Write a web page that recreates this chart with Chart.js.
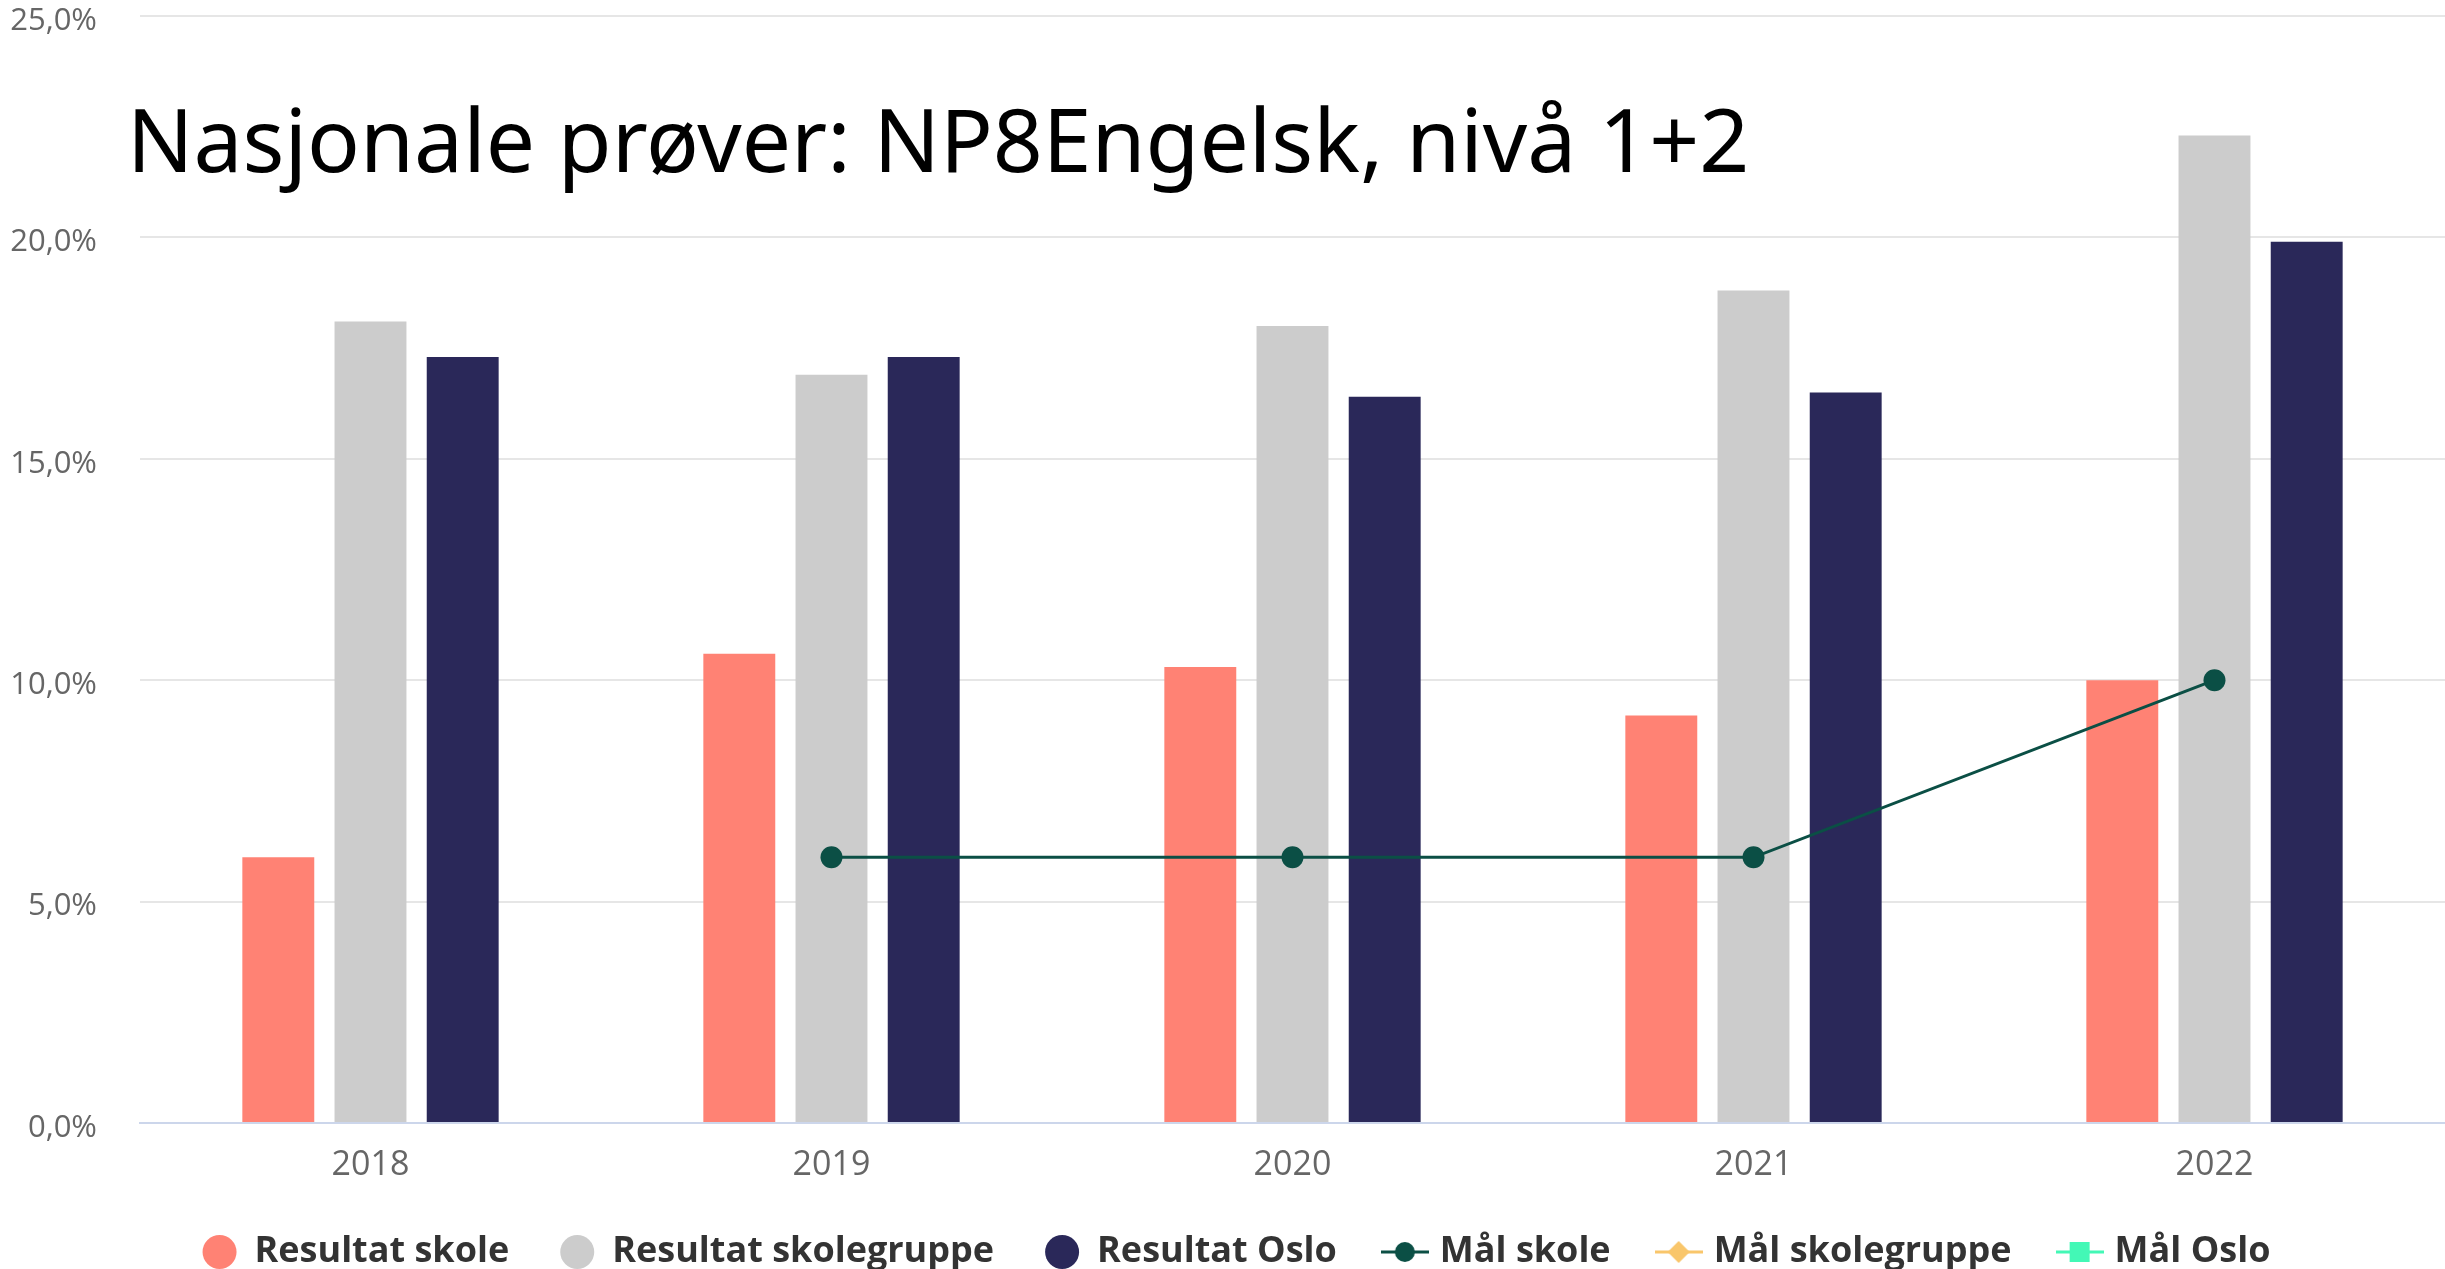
<!DOCTYPE html>
<html><head><meta charset="utf-8">
<script src="https://cdn.jsdelivr.net/npm/chart.js@4/dist/chart.umd.min.js"></script>
<style>
html,body{margin:0;padding:0;background:#fff;}
#wrap{position:relative;width:2445px;height:1269px;}
#title{position:absolute;left:127px;top:94px;font-family:"Noto Sans";font-size:87.5px;line-height:88px;color:#000;white-space:nowrap;pointer-events:none;}
</style></head>
<body><div id="wrap"><canvas id="c" width="2445" height="1269"></canvas><div id="title">Nasjonale prøver: NP8Engelsk, nivå 1+2</div></div>
<script>
const years = ['2018', '2019', '2020', '2021', '2022'];
const resultatSkole = [6.0, 10.6, 10.3, 9.2, 10.0];
const resultatSkolegruppe = [18.1, 16.9, 18.0, 18.8, 22.3];
const resultatOslo = [17.3, 17.3, 16.4, 16.5, 19.9];
const malSkole = [null, 6.0, 6.0, 6.0, 10.0];
const malSkolegruppe = [null, null, null, null, null];
const malOslo = [null, null, null, null, null];
const yTickValues = [0, 5, 10, 15, 20, 25];

const C_RED = '#FF8274', C_GRAY = '#CCCCCC', C_NAVY = '#2A2859',
      C_DGREEN = '#0B4F45', C_YELLOW = '#F9C66B', C_GREEN = '#43F8B6';

function lineMarker(color, shape) {
  const c = document.createElement('canvas'); c.width = 48; c.height = 26;
  const g = c.getContext('2d');
  g.strokeStyle = color; g.lineWidth = 3;
  g.beginPath(); g.moveTo(0, 13); g.lineTo(48, 13); g.stroke();
  g.fillStyle = color; g.beginPath();
  if (shape === 'circle') g.arc(24, 13, 10, 0, Math.PI * 2);
  else if (shape === 'diamond') { g.moveTo(24, 2); g.lineTo(35, 13); g.lineTo(24, 24); g.lineTo(13, 13); g.closePath(); }
  else g.rect(14, 3, 20, 20);
  g.fill();
  return c;
}
const legendMarkers = {
  'Mål skole': lineMarker(C_DGREEN, 'circle'),
  'Mål skolegruppe': lineMarker(C_YELLOW, 'diamond'),
  'Mål Oslo': lineMarker(C_GREEN, 'square')
};

const legendShift = {
  id: 'legendShift',
  afterLayout(chart) { if (chart.legend) chart.legend.left += 28; }
};

const ctx = document.getElementById('c');
new Chart(ctx, {
  plugins: [legendShift],
  data: {
    labels: years,
    datasets: [
      { type: 'bar', label: 'Resultat skole', data: resultatSkole, backgroundColor: C_RED, order: 1 },
      { type: 'bar', label: 'Resultat skolegruppe', data: resultatSkolegruppe, backgroundColor: C_GRAY, order: 1 },
      { type: 'bar', label: 'Resultat Oslo', data: resultatOslo, backgroundColor: C_NAVY, order: 1 },
      { type: 'line', label: 'Mål skole', data: malSkole, borderColor: C_DGREEN, backgroundColor: C_DGREEN,
        borderWidth: 3, pointRadius: 11, pointHoverRadius: 11, pointBorderWidth: 0, order: 0 },
      { type: 'line', label: 'Mål skolegruppe', data: malSkolegruppe, borderColor: C_YELLOW, backgroundColor: C_YELLOW,
        borderWidth: 3, pointRadius: 9, pointStyle: 'rectRot', order: 0 },
      { type: 'line', label: 'Mål Oslo', data: malOslo, borderColor: C_GREEN, backgroundColor: C_GREEN,
        borderWidth: 3, pointRadius: 9, pointStyle: 'rect', order: 0 }
    ]
  },
  options: {
    responsive: false,
    devicePixelRatio: 1,
    animation: false,
    layout: { autoPadding: false, padding: { top: 16, left: 0, right: 0, bottom: -11 } },
    datasets: { bar: { categoryPercentage: 0.6, barPercentage: 0.78 } },
    scales: {
      x: {
        grid: { display: true, drawOnChartArea: false, drawTicks: true, tickLength: 22, tickColor: 'rgba(0,0,0,0)', color: 'rgba(0,0,0,0)' },
        border: { display: true, color: '#CCD6EB', width: 2 },
        ticks: { color: '#666666', font: { family: '"Open Sans"', size: 34 }, padding: 0 },
        afterFit: s => { s.height = 60; s.paddingLeft = 0; s.paddingRight = 0; }
      },
      y: {
        min: 0, max: 25,
        afterBuildTicks: s => { s.ticks = yTickValues.map(v => ({ value: v })); },
        grid: { color: '#E6E6E6', lineWidth: 2, drawTicks: true, tickLength: 43, tickColor: 'rgba(0,0,0,0)' },
        border: { display: false },
        ticks: {
          color: '#666666', font: { family: '"Open Sans"', size: 31, lineHeight: 1 }, padding: 0, labelOffset: 5,
          callback: v => v.toFixed(1).replace('.', ',') + '%'
        },
        afterFit: s => { s.width = 140; }
      }
    },
    plugins: {
      tooltip: { enabled: false },
      title: { display: false },
      legend: {
        position: 'bottom',
        labels: {
          usePointStyle: true, pointStyleWidth: 34, boxHeight: 24, padding: 51,
          color: '#333333', font: { family: '"Open Sans"', size: 36, weight: 'bold' },
          sort: (a, b) => a.datasetIndex - b.datasetIndex,
          generateLabels: chart => {
            const items = Chart.defaults.plugins.legend.labels.generateLabels(chart);
            items.forEach(it => {
              if (legendMarkers[it.text]) it.pointStyle = legendMarkers[it.text];
              else { it.pointStyle = 'circle'; it.lineWidth = 0; }
            });
            return items;
          }
        }
      }
    }
  }
});
</script>
</body></html>
